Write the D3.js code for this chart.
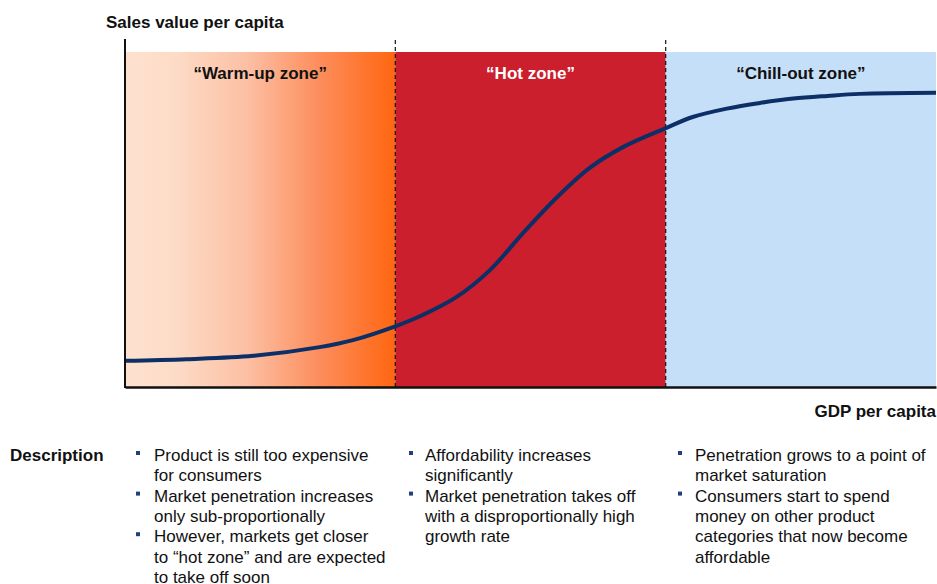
<!DOCTYPE html>
<html>
<head>
<meta charset="utf-8">
<script src="https://cdn.jsdelivr.net/npm/d3@7"></script>
<style>
  body { margin: 0; background: #fff; }
  svg { font-family: "Liberation Sans", Arial, sans-serif; }
</style>
</head>
<body>
<svg id="chart" width="937" height="584"></svg>
<script>
// ===============================
// S-curve: sales value per capita vs GDP per capita
// ===============================

// Zones (GDP per capita, relative units 0-100)
const zoneNames = ['\u201CWarm-up zone\u201D', '\u201CHot zone\u201D', '\u201CChill-out zone\u201D'];
const zoneStarts = [0, 33.33, 66.67];
const zoneEnds = [33.33, 66.67, 100];

// Curve (relative units)
const curveX = [0, 7.6, 15.8, 24, 28.1, 33.4, 36.7, 40.9, 45, 49.1, 53.3, 57.3, 61.4, 66.7, 70, 74.2, 78.3, 82.4, 86.6, 90.6, 100];
const curveY = [7.8, 8.3, 9.3, 11.9, 14.0, 18.2, 21.5, 26.9, 34.9, 46.0, 56.7, 65.4, 71.6, 77.3, 80.6, 83.1, 84.8, 86.1, 86.9, 87.5, 87.8];

// Description bullets per zone
const descWarm = [
  ['Product is still too expensive', 'for consumers'],
  ['Market penetration increases', 'only sub-proportionally'],
  ['However, markets get closer', 'to \u201Chot zone\u201D and are expected', 'to take off soon']
];
const descHot = [
  ['Affordability increases', 'significantly'],
  ['Market penetration takes off', 'with a disproportionally high', 'growth rate']
];
const descChill = [
  ['Penetration grows to a point of', 'market saturation'],
  ['Consumers start to spend', 'money on other product', 'categories that now become', 'affordable']
];

const svg = d3.select('#chart');
const margin = { top: 52, left: 125, right: 1, bottom: 197 };
const width = 937 - margin.left - margin.right;
const height = 584 - margin.top - margin.bottom;

const g = svg.append('g').attr('transform', `translate(${margin.left},${margin.top})`);

const x = d3.scaleLinear().domain([0, 100]).range([0, width]);
const y = d3.scaleLinear().domain([0, 100]).range([height, 0]);

// Gradient for warm-up zone
const defs = svg.append('defs');
const grad = defs.append('linearGradient').attr('id', 'warm').attr('x1', '0%').attr('x2', '100%');
[[0, '#fde1cf'], [0.18, '#fddcc7'], [0.45, '#fcc0a4'], [0.72, '#fd8d5c'], [1, '#ff6611']]
  .forEach(([o, c]) => grad.append('stop').attr('offset', o).attr('stop-color', c));

const zoneFill = ['url(#warm)', '#cc1f2e', '#c6dff8'];
const zoneText = ['#111', '#fff', '#111'];

// Zone backgrounds
g.selectAll('.zone')
  .data(zoneNames)
  .enter()
  .append('rect')
  .attr('class', 'zone')
  .attr('x', (d, i) => x(zoneStarts[i]))
  .attr('y', y(100))
  .attr('width', (d, i) => x(zoneEnds[i]) - x(zoneStarts[i]))
  .attr('height', y(0) - y(100))
  .attr('fill', (d, i) => zoneFill[i]);

// Zone labels
g.selectAll('.zlabel')
  .data(zoneNames)
  .enter()
  .append('text')
  .attr('x', (d, i) => (x(zoneStarts[i]) + x(zoneEnds[i])) / 2)
  .attr('y', 27)
  .attr('text-anchor', 'middle')
  .style('font-size', '17px')
  .style('font-weight', 'bold')
  .attr('fill', (d, i) => zoneText[i])
  .text((d) => d);

// Dashed dividers
g.selectAll('.divider')
  .data(zoneStarts.slice(1))
  .enter()
  .append('line')
  .attr('x1', (d) => x(d))
  .attr('x2', (d) => x(d))
  .attr('y1', -12)
  .attr('y2', height)
  .attr('stroke', '#111')
  .attr('stroke-width', 1.2)
  .attr('stroke-dasharray', '4,3');

// S-curve
const pts = curveX.map((v, i) => [v, curveY[i]]);
const line = d3.line()
  .x((d) => x(d[0]))
  .y((d) => y(d[1]))
  .curve(d3.curveCatmullRom.alpha(0.5));

g.append('path')
  .attr('d', line(pts))
  .attr('fill', 'none')
  .attr('stroke', '#0b2f66')
  .attr('stroke-width', 4);

// Axes (lines only)
const yAx = g.append('g').call(d3.axisLeft(y).ticks(0).tickSizeOuter(0));
yAx.select('.domain').attr('d', `M0,${height + 1}V-13`).attr('stroke', '#111').attr('stroke-width', 2);
const xAx = g.append('g').attr('transform', `translate(0,${height})`)
  .call(d3.axisBottom(x).ticks(0).tickSizeOuter(0));
xAx.select('.domain').attr('stroke', '#111').attr('stroke-width', 2.5);

// Axis titles
svg.append('text')
  .attr('x', 106)
  .attr('y', 28)
  .style('font-size', '17px')
  .style('font-weight', 'bold')
  .attr('fill', '#111')
  .text('Sales value per capita');

svg.append('text')
  .attr('x', 936)
  .attr('y', 417)
  .attr('text-anchor', 'end')
  .style('font-size', '17px')
  .style('font-weight', 'bold')
  .attr('fill', '#111')
  .text('GDP per capita');

// Description block
svg.append('text')
  .attr('x', 10)
  .attr('y', 461)
  .style('font-size', '17px')
  .style('font-weight', 'bold')
  .attr('fill', '#111')
  .text('Description');

const lineH = 20.3;
function bullets(items, bx, tx) {
  let row = 0;
  items.forEach((item) => {
    svg.append('rect')
      .attr('x', bx)
      .attr('y', 461 + row * lineH - 10)
      .attr('width', 4)
      .attr('height', 4)
      .attr('fill', '#23407e');
    item.forEach((t) => {
      svg.append('text')
        .attr('x', tx)
        .attr('y', 461 + row * lineH)
        .style('font-size', '17px')
        .attr('fill', '#111')
        .text(t);
      row++;
    });
  });
}
bullets(descWarm, 136, 154);
bullets(descHot, 409, 425);
bullets(descChill, 678, 695);
</script>
</body>
</html>
